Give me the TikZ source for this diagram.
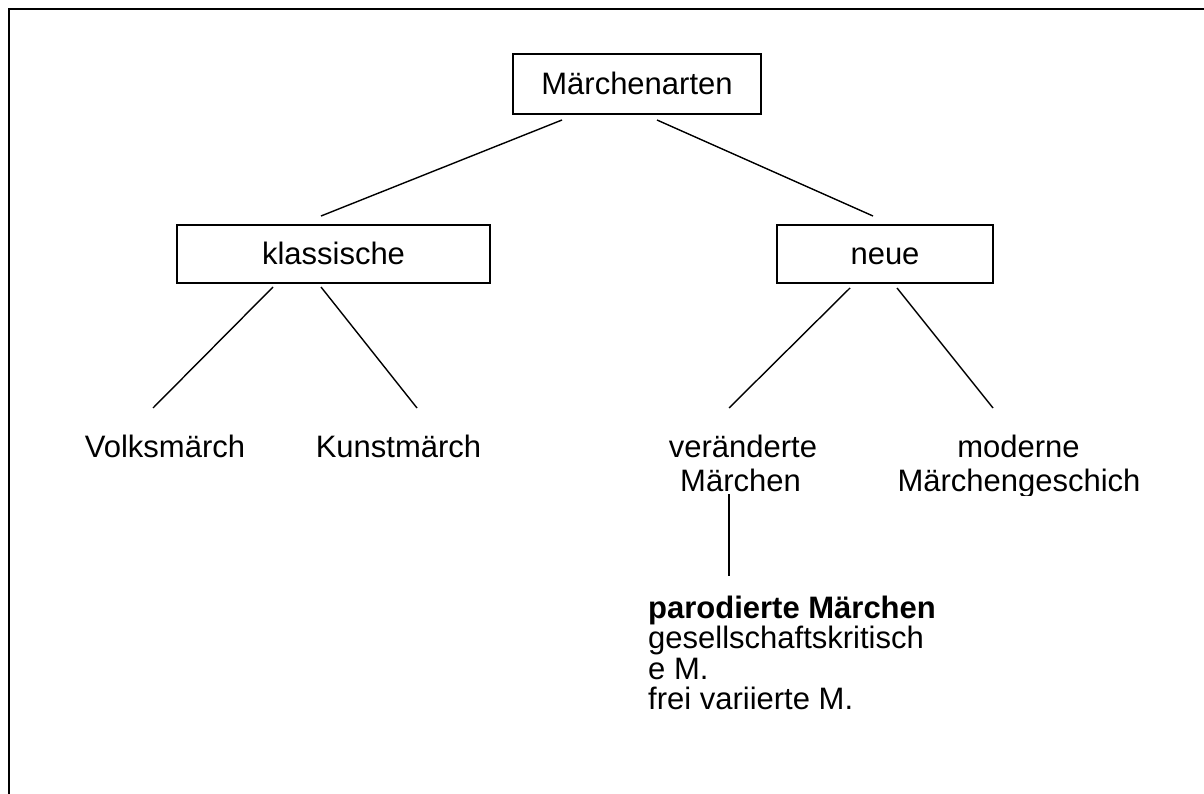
\documentclass[tikz,border=0pt]{standalone}
\usepackage{fontspec}
\setmainfont{Liberation Sans}
\begin{document}
\begin{tikzpicture}[x=1pt,y=-1pt,
  box/.style={draw,line width=1.4pt,inner sep=0pt,text height=21pt,text depth=0pt,font=\fontsize{31}{35}\selectfont},
  lbl/.style={inner sep=0pt,anchor=base,font=\fontsize{31}{35}\selectfont},
  lbll/.style={lbl,anchor=base west},
  link/.style={line width=1.4pt}]
\useasboundingbox (0,0) rectangle (1204,794);
\fill[white] (0,0) rectangle (1204,794);
\draw[line width=2pt] (1204,9) -- (9,9) -- (9,794);
% boxes
\node[box,minimum width=248pt,minimum height=60pt] (root) at (637,84) {Märchenarten};
\node[box,minimum width=313pt,minimum height=58pt] (kl) at (333.5,254) {klassische};
\node[box,minimum width=216pt,minimum height=58pt] (neu) at (885,254) {neue};
% leaves
\node[lbl] (volks) at (165,457) {Volksmärch};
\node[lbl] (kunst) at (398.5,457) {Kunstmärch};
\node[lbl] (ver) at (743,457) {veränderte};
\node[lbl] (ver2) at (740.5,491) {Märchen};
\node[lbl] (mod) at (1018.5,457) {moderne};
\begin{scope}
  \clip (880,465) rectangle (1170,495);
  \node[lbl] (mod2) at (1019,491) {Märchengeschich};
\end{scope}
\node[lbll] (paro) at (648,618) {\bfseries parodierte Märchen};
\node[lbll] (ges) at (648,648.5) {gesellschaftskritisch};
\node[lbll] (em) at (648,679) {e M.};
\node[lbll] (frei) at (648,709.5) {frei variierte M.};
% connector end points
\coordinate (rA) at (562,120);
\coordinate (rB) at (657,120);
\coordinate (klT) at (321,216);
\coordinate (neT) at (873,216);
\coordinate (klA) at (273,287);
\coordinate (klB) at (321,287);
\coordinate (vT) at (153,408);
\coordinate (kT) at (417,408);
\coordinate (neA) at (850,288);
\coordinate (neB) at (897,288);
\coordinate (verT) at (729,408);
\coordinate (modT) at (993,408);
\coordinate (verB) at (729,494);
\coordinate (paroT) at (729,576);
% connectors
\draw[link] (rA) -- (klT);
\draw[link] (rB) -- (neT);
\draw[link] (klA) -- (vT);
\draw[link] (klB) -- (kT);
\draw[link] (neA) -- (verT);
\draw[link] (neB) -- (modT);
\draw[link] (verB) -- (paroT);
\end{tikzpicture}
\end{document}
